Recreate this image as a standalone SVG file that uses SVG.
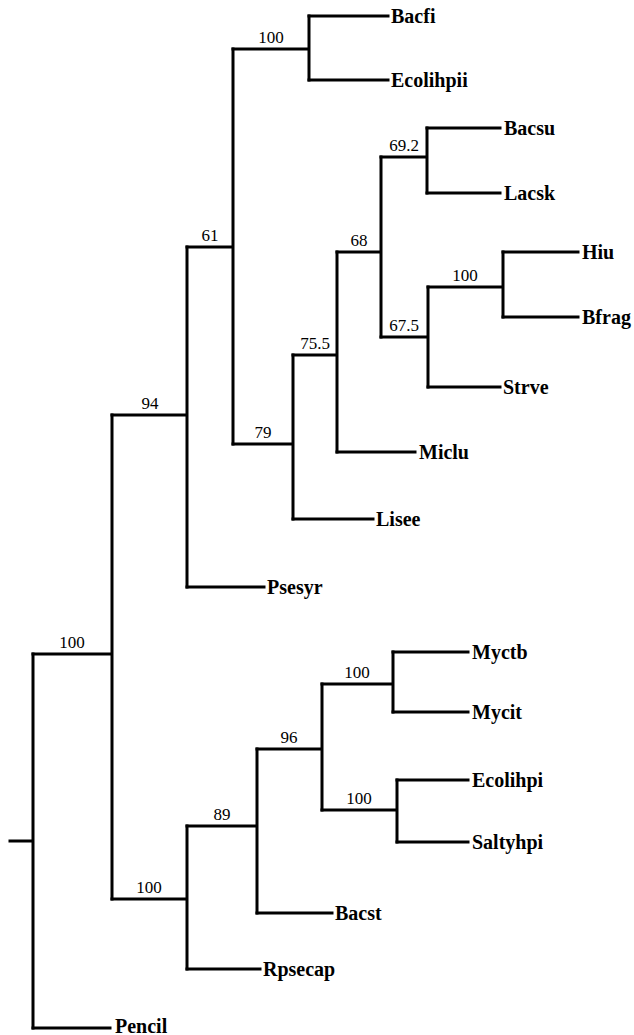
<svg xmlns="http://www.w3.org/2000/svg" width="634" height="1035" viewBox="0 0 634 1035">
<style>
.br{fill:none;stroke:#000;stroke-width:3;stroke-linecap:square;stroke-linejoin:miter}
.tip{font-family:"Liberation Serif","DejaVu Serif","Times New Roman",serif;font-weight:bold;font-size:20px;fill:#000}
.sup{font-family:"Liberation Serif","DejaVu Serif","Times New Roman",serif;font-size:17px;fill:#000;text-anchor:middle}
</style>
<rect width="634" height="1035" fill="#fff"/>
<g id="connectors">
<path class="br" d="M10 841H33M33 654V1028"/>
<path class="br" d="M33 654H112M112 415V899"/>
<path class="br" d="M33 1028H110"/>
<path class="br" d="M112 415H187M187 247V587"/>
<path class="br" d="M112 899H187M187 826V969"/>
<path class="br" d="M187 247H233M233 49V444"/>
<path class="br" d="M187 587H264"/>
<path class="br" d="M233 49H309M309 16V80"/>
<path class="br" d="M309 16H388M309 80H388"/>
<path class="br" d="M233 444H293M293 355V519"/>
<path class="br" d="M293 355H337M337 252V452"/>
<path class="br" d="M293 519H373"/>
<path class="br" d="M337 252H381M381 157V337"/>
<path class="br" d="M337 452H415"/>
<path class="br" d="M381 157H427M427 128V193"/>
<path class="br" d="M427 128H500M427 193H500"/>
<path class="br" d="M381 337H428M428 287V387"/>
<path class="br" d="M428 287H503M503 252V317"/>
<path class="br" d="M503 252H578M503 317H578"/>
<path class="br" d="M428 387H500"/>
<path class="br" d="M187 826H257M257 749V913"/>
<path class="br" d="M187 969H260"/>
<path class="br" d="M257 749H322M322 684V810"/>
<path class="br" d="M257 913H332"/>
<path class="br" d="M322 684H393M393 652V712"/>
<path class="br" d="M393 652H468M393 712H468"/>
<path class="br" d="M322 810H397M397 780V842"/>
<path class="br" d="M397 780H468M397 842H468"/>
</g>
<g id="n-root100"><text class="sup" x="72" y="648">100</text></g>
<g id="n-94"><text class="sup" x="150" y="409">94</text></g>
<g id="n-61"><text class="sup" x="210" y="241">61</text></g>
<g id="n-100a"><text class="sup" x="271" y="43">100</text></g>
<g id="n-79"><text class="sup" x="263" y="438">79</text></g>
<g id="n-75_5"><text class="sup" x="315" y="349">75.5</text></g>
<g id="n-68"><text class="sup" x="359" y="246">68</text></g>
<g id="n-69_2"><text class="sup" x="404" y="151">69.2</text></g>
<g id="n-67_5"><text class="sup" x="404" y="331">67.5</text></g>
<g id="n-100b"><text class="sup" x="465" y="281">100</text></g>
<g id="n-100c"><text class="sup" x="149" y="893">100</text></g>
<g id="n-89"><text class="sup" x="222" y="820">89</text></g>
<g id="n-96"><text class="sup" x="289" y="743">96</text></g>
<g id="n-100d"><text class="sup" x="357" y="678">100</text></g>
<g id="n-100e"><text class="sup" x="359" y="804">100</text></g>
<g id="t-Bacfi"><text class="tip" x="391" y="23">Bacfi</text></g>
<g id="t-Ecolihpii"><text class="tip" x="391" y="87">Ecolihpii</text></g>
<g id="t-Bacsu"><text class="tip" x="504" y="135">Bacsu</text></g>
<g id="t-Lacsk"><text class="tip" x="504" y="200">Lacsk</text></g>
<g id="t-Hiu"><text class="tip" x="582" y="259">Hiu</text></g>
<g id="t-Bfrag"><text class="tip" x="582" y="324">Bfrag</text></g>
<g id="t-Strve"><text class="tip" x="503" y="394">Strve</text></g>
<g id="t-Miclu"><text class="tip" x="419" y="459">Miclu</text></g>
<g id="t-Lisee"><text class="tip" x="376" y="526">Lisee</text></g>
<g id="t-Psesyr"><text class="tip" x="267" y="594">Psesyr</text></g>
<g id="t-Myctb"><text class="tip" x="472" y="659">Myctb</text></g>
<g id="t-Mycit"><text class="tip" x="472" y="719">Mycit</text></g>
<g id="t-Ecolihpi"><text class="tip" x="472" y="787">Ecolihpi</text></g>
<g id="t-Saltyhpi"><text class="tip" x="472" y="849">Saltyhpi</text></g>
<g id="t-Bacst"><text class="tip" x="335" y="920">Bacst</text></g>
<g id="t-Rpsecap"><text class="tip" x="263" y="976">Rpsecap</text></g>
<g id="t-Pencil"><text class="tip" x="115" y="1033">Pencil</text></g>
</svg>
